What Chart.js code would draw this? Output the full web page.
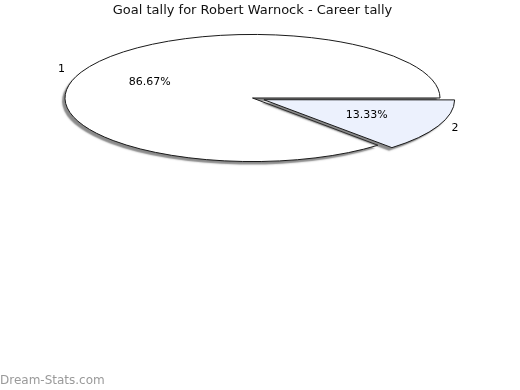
<!DOCTYPE html>
<html>
<head>
<meta charset="utf-8">
<script src="https://cdn.jsdelivr.net/npm/chart.js@4"></script>
<style>
    html, body { margin: 0; padding: 0; background: #ffffff; }
    #wrap { width: 520px; height: 390px; position: relative; }
</style>
</head>
<body>
<div id="wrap"><canvas id="goalChart" width="520" height="390"></canvas></div>
<script>
// chart data
const categories = ['1', '2'];
const goalValues = [13, 2];
const percentLabels = ['86.67%', '13.33%'];
const sliceColors = ['#ffffff', '#ecf1fd'];
const sliceOffsets = [0, 50];
const chartTitle = 'Goal tally for Robert Warnock - Career tally';
const watermark = 'Dream-Stats.com';

const SQUASH = 0.339;   // vertical flattening of the pie
const CENTER_Y = 98;    // where the flattened pie sits

function toScreen(arc, px, py) {
    return { x: px, y: CENTER_Y + (py - arc.y) * SQUASH };
}

const ellipsePlugin = {
    id: 'ellipsePie',
    beforeDatasetsDraw(chart) {
        const ctx = chart.ctx;
        const arc = chart.getDatasetMeta(0).data[0];
        ctx.save();
        ctx.translate(0, CENTER_Y);
        ctx.scale(1, SQUASH);
        ctx.translate(0, -arc.y);
        ctx.shadowColor = 'rgba(60, 60, 60, 0.6)';
        ctx.shadowBlur = 1.5;
        ctx.shadowOffsetX = -3;
        ctx.shadowOffsetY = 3;
        // keep line widths even: stroke with no scale applied
        const origStroke = ctx.stroke;
        ctx._origStroke = origStroke;
        ctx.stroke = function() {
            this.save();
            this.setTransform(1, 0, 0, 1, 0, 0);
            this.shadowColor = 'rgba(0,0,0,0)';
            origStroke.apply(this, arguments);
            this.restore();
        };
    },
    afterDatasetsDraw(chart) {
        const ctx = chart.ctx;
        ctx.stroke = ctx._origStroke;
        delete ctx._origStroke;
        ctx.restore();
    },
    afterDraw(chart) {
        const ctx = chart.ctx;
        const meta = chart.getDatasetMeta(0);
        ctx.save();
        ctx.fillStyle = '#000000';
        ctx.font = '11px "DejaVu Sans"';
        ctx.textAlign = 'center';
        ctx.textBaseline = 'middle';
        meta.data.forEach((arc, i) => {
            const mid = (arc.startAngle + arc.endAngle) / 2;
            const shift = (arc.options.offset || 0) / 4;
            const ox = arc.x + Math.cos(mid) * shift;
            const oy = arc.y + Math.sin(mid) * shift;
            const r = arc.outerRadius;
            const inner = toScreen(arc, ox + Math.cos(mid) * r * 0.6, oy + Math.sin(mid) * r * 0.6);
            ctx.fillText(percentLabels[i], inner.x, inner.y);
            const outer = toScreen(arc, ox + Math.cos(mid) * r * 1.115, oy + Math.sin(mid) * r * 1.115);
            ctx.fillText(categories[i], outer.x, outer.y);
        });
        ctx.fillStyle = '#9a9a9a';
        ctx.font = '12px "DejaVu Sans"';
        ctx.textAlign = 'left';
        ctx.textBaseline = 'alphabetic';
        ctx.fillText(watermark, 0, 384);
        ctx.restore();
    }
};

new Chart(document.getElementById('goalChart').getContext('2d'), {
    type: 'pie',
    data: {
        labels: categories,
        datasets: [{
            data: goalValues,
            backgroundColor: sliceColors,
            borderColor: '#1a1a1a',
            borderWidth: 1,
            offset: sliceOffsets,
            hoverOffset: 0,
            clip: false
        }]
    },
    options: {
        responsive: false,
        animation: false,
        rotation: 138,
        radius: 187.5,
        layout: { padding: { left: 0, right: 15, top: 0, bottom: 0 } },
        events: [],
        plugins: {
            legend: { display: false },
            tooltip: { enabled: false },
            title: {
                display: true,
                text: chartTitle,
                color: '#111111',
                font: { family: 'DejaVu Sans', size: 13, weight: 'normal' },
                padding: { top: 3, bottom: 0 }
            }
        }
    },
    plugins: [ellipsePlugin]
});
</script>
</body>
</html>
